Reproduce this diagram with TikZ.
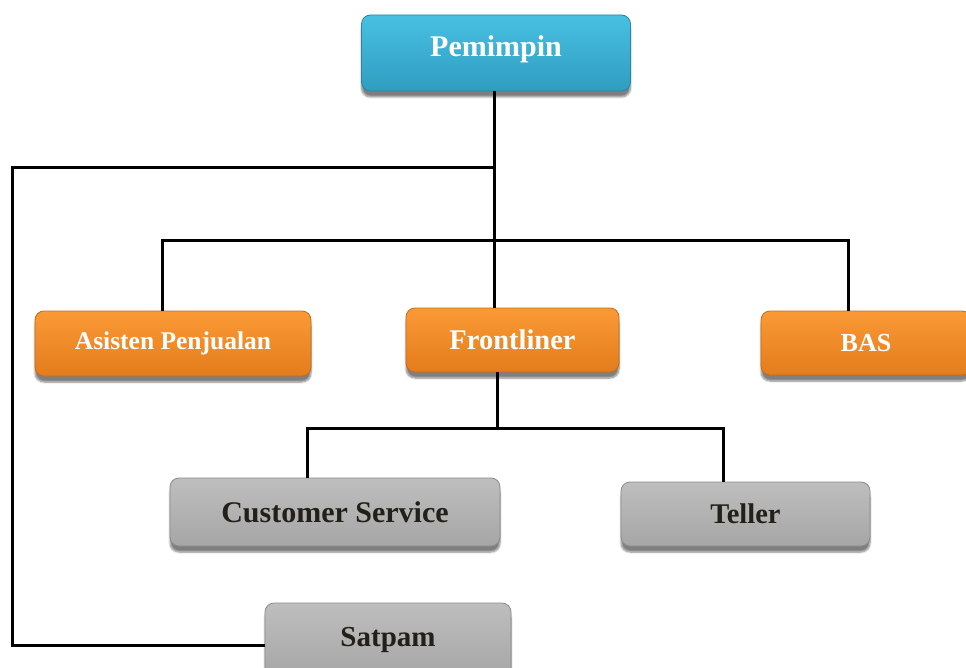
\documentclass[tikz,border=0pt]{standalone}
\usepackage{fontspec}
\setmainfont{Liberation Serif}
\usetikzlibrary{shadows.blur}
\definecolor{cyanTop}{HTML}{48C0E2}
\definecolor{cyanBot}{HTML}{2F9DC0}
\definecolor{cyanLine}{HTML}{2A86A3}
\definecolor{orTop}{HTML}{FA9A36}
\definecolor{orBot}{HTML}{E47C1C}
\definecolor{orLine}{HTML}{C86A18}
\definecolor{grTop}{HTML}{BEBEBE}
\definecolor{grBot}{HTML}{A6A6A6}
\definecolor{grLine}{HTML}{8C8C8C}
\definecolor{grText}{HTML}{222018}
\begin{document}
\begin{tikzpicture}[x=1pt,y=-1pt,
  box/.style={rounded corners=9pt, inner sep=0pt, font=\bfseries, line width=0.8pt,
    blur shadow={shadow xshift=0pt, shadow yshift=-6pt, shadow blur steps=6, shadow opacity=50}},
  cyanbox/.style={box, top color=cyanTop, bottom color=cyanBot, draw=cyanLine, text=white},
  orbox/.style={box, top color=orTop, bottom color=orBot, draw=orLine, text=white},
  grbox/.style={box, top color=grTop, bottom color=grBot, draw=grLine, text=grText},
  link/.style={line width=3pt, line join=miter, black}]
\useasboundingbox (0,0) rectangle (966,668);

\node[cyanbox, minimum width=269pt, minimum height=76pt, text height=20pt, text depth=12pt, font=\bfseries\fontsize{30}{32}\selectfont] (pem) at (496,53) {Pemimpin};
\node[orbox, minimum width=276pt, minimum height=65pt, font=\bfseries\fontsize{25.5}{28}\selectfont] (asis) at (173,343.5) {Asisten Penjualan};
\node[orbox, minimum width=213pt, minimum height=64pt, font=\bfseries\fontsize{28.5}{30}\selectfont] (front) at (512.5,340) {Frontliner};
\node[orbox, minimum width=210pt, minimum height=64pt, font=\bfseries\fontsize{26}{28}\selectfont] (bas) at (866,343) {BAS};
\node[grbox, minimum width=330pt, minimum height=68pt, font=\bfseries\fontsize{30}{32}\selectfont] (cs) at (335,512) {Customer Service};
\node[grbox, minimum width=249pt, minimum height=64pt, font=\bfseries\fontsize{28.5}{30}\selectfont] (tel) at (745.5,514) {Teller};
\node[grbox, minimum width=246pt, minimum height=74pt, font=\bfseries\fontsize{29}{31}\selectfont] (sat) at (388,640) {Satpam};

\coordinate (j1) at (494,168);
\coordinate (c1) at (12,168);
\coordinate (c2) at (12,645);
\coordinate (b1) at (162,241);
\coordinate (b2) at (848,241);
\coordinate (j3) at (497,428);
\coordinate (k1) at (307,428);
\coordinate (k2) at (723,428);

\draw[link] (pem.south -| j1) -- (j1 |- front.north);
\draw[link] (j1) -- (c1) -- (c2) -- (c2 -| sat.west);
\draw[link] (b1 |- asis.north) -- (b1) -- (b2) -- (b2 |- bas.north);
\draw[link] (front.south -| j3) -- (j3);
\draw[link] (k1 |- cs.north) -- (k1) -- (k2) -- (k2 |- tel.north);
\end{tikzpicture}
\end{document}
